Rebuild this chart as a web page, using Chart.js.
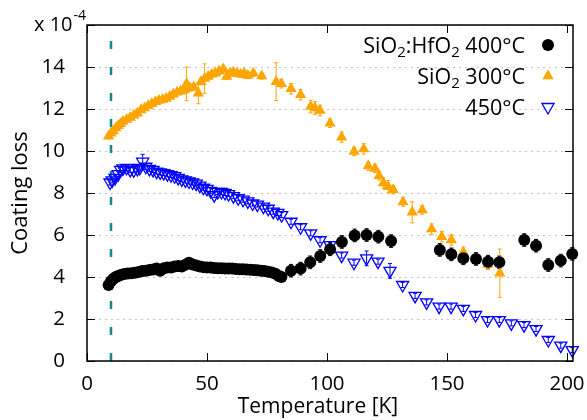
<!DOCTYPE html>
<html>
<head>
<meta charset="utf-8">
<script src="https://cdn.jsdelivr.net/npm/chart.js@4.4.0/dist/chart.umd.min.js"></script>
<style>
    html, body { margin: 0; padding: 0; background: #fff; }
</style>
</head>
<body>
<canvas id="lossChart" width="587" height="420"></canvas>
<script>
// SiO2:HfO2 400°C
const blackT = [9, 10, 11, 12, 13, 14, 15.5, 17, 18.5, 20, 21.5, 23, 24.5, 26, 27.5, 29, 30.5, 32, 33.5, 35,
    36.5, 38, 39.5, 41, 42.5, 44, 45.5, 47, 48.5, 50, 51.5, 53, 54.5, 56, 57.5, 59, 60.5, 62, 63.5, 65,
    66.5, 68, 69.5, 71, 72.5, 74, 75.5, 77, 78.5, 80, 81,
    85, 89, 93, 97.2, 101.3, 106.2, 111.5, 116.5, 121.4, 126.7, 147, 151.8, 156.8, 162.1, 167.1, 171.8,
    182.2, 187.1, 192.2, 197.4, 202.2];
const blackV = [3.62, 3.8, 3.92, 4.0, 4.05, 4.1, 4.14, 4.17, 4.18, 4.2, 4.24, 4.28, 4.3, 4.33, 4.36, 4.4, 4.3, 4.42, 4.45, 4.45,
    4.5, 4.52, 4.5, 4.58, 4.68, 4.6, 4.55, 4.5, 4.47, 4.45, 4.45, 4.43, 4.42, 4.42, 4.4, 4.4, 4.4, 4.38, 4.37, 4.37,
    4.36, 4.35, 4.33, 4.32, 4.3, 4.28, 4.25, 4.22, 4.15, 4.05, 4.0,
    4.3, 4.4, 4.7, 5.0, 5.32, 5.67, 5.98, 6.0, 5.92, 5.71, 5.29, 5.08, 4.89, 4.86, 4.73, 4.7,
    5.76, 5.49, 4.57, 4.78, 5.1];
const blackErr = blackT.map(t => t > 82 ? 0.3 : 0.2);

// SiO2 300°C
const orangeT = [9, 10, 11, 12, 13, 14, 15, 16.5, 18, 19.5, 21, 22.5, 24, 25.5, 27, 28.5, 30, 31.5, 33, 34.5,
    36, 37.5, 39, 40.5, 41.5, 43, 44.5, 46.4, 47.5, 49, 50.5, 52, 53.5, 55, 56.8, 58.2, 59.5, 61, 62.5, 64,
    65.5, 67, 69.3, 72.8, 78.8, 81, 85, 89, 93.2, 95, 97.1, 101.25, 106.1, 111.25, 115.3, 117.2, 120, 121.7,
    123.5, 125.5, 127.6, 131.7, 135.5, 139.7, 143.6, 147.8, 151.8, 156.8, 162, 167, 172];
const orangeV = [10.7, 10.85, 10.95, 11.1, 11.2, 11.3, 11.4, 11.5, 11.6, 11.7, 11.8, 11.95, 12.05, 12.15, 12.25, 12.35, 12.4, 12.45, 12.5, 12.6,
    12.7, 12.8, 12.85, 12.9, 13.2, 13.0, 13.05, 12.75, 13.3, 13.45, 13.55, 13.65, 13.7, 13.8, 13.9, 13.55, 13.7, 13.75, 13.7, 13.65,
    13.7, 13.6, 13.7, 13.57, 13.3, 13.2, 12.96, 12.68, 12.12, 12.05, 11.93, 11.32, 10.66, 9.98, 10.1, 9.28, 9.17, 8.82,
    8.48, 8.3, 8.16, 7.57, 7.08, 7.19, 6.28, 5.92, 5.76, 5.18, 4.85, 4.6, 4.18];
const orangeErr = [0.12, 0.12, 0.12, 0.12, 0.12, 0.12, 0.12, 0.12, 0.12, 0.12, 0.12, 0.12, 0.12, 0.12, 0.12, 0.12, 0.12, 0.12, 0.12, 0.12,
    0.12, 0.12, 0.12, 0.12, 0.8, 0.15, 0.15, 0.5, 0.15, 0.7, 0.15, 0.15, 0.15, 0.15, 0.15, 0.15, 0.15, 0.15, 0.15, 0.15,
    0.15, 0.15, 0.15, 0.15, 0.9, 0.2, 0.25, 0.25, 0.3, 0.3, 0.25, 0.2, 0.25, 0.2, 0.25, 0.2, 0.2, 0.2,
    0.25, 0.3, 0.2, 0.2, 0.5, 0.2, 0.25, 0.25, 0.25, 0.25, 0.25, 0.25, 1.15];

// 450°C
const blueT = [9.6, 10.5, 11.7, 13, 14, 15, 16.5, 18, 19.5, 21, 22, 23.2, 24.5, 26, 27.5, 29, 30.5, 32, 33.5, 35,
    36.5, 38, 39.5, 41, 42.5, 44, 45.5, 47, 48.5, 50, 51.5, 53, 54.5, 56, 57.5, 59, 61, 63, 65, 67,
    69, 71, 73.5, 75.5, 77.6, 79.5, 81.1, 85, 89, 93.2, 97.1, 101.25, 106.1, 111.25, 116.5, 121.25, 126.25, 131.5, 136.7, 141.5,
    146.7, 151.7, 156.8, 161.9, 166.9, 171.8, 176.8, 182.1, 187.1, 192.2, 197.4, 202.2];
const blueV = [8.5, 8.6, 8.72, 8.9, 9.1, 9.17, 9.2, 9.1, 9.08, 9.15, 9.2, 9.49, 9.25, 9.15, 9.1, 9.02, 8.98, 8.95, 8.9, 8.85,
    8.8, 8.72, 8.65, 8.6, 8.55, 8.5, 8.45, 8.35, 8.25, 8.2, 8.1, 7.9, 8.05, 8.05, 8.0, 7.95, 7.85, 7.75, 7.68, 7.6,
    7.5, 7.45, 7.35, 7.25, 7.11, 7.05, 6.95, 6.63, 6.37, 6.08, 5.75, 5.52, 5.02, 4.68, 4.89, 4.73, 4.29, 3.62, 3.1, 2.79,
    2.59, 2.59, 2.48, 2.19, 1.95, 1.95, 1.79, 1.71, 1.52, 1.0, 0.73, 0.52];
const blueErr = blueT.map((t, i) => (i === 11 || i === 54 || i === 56) ? 0.35 : 0.12);

const xTicks = [0, 50, 100, 150, 200];
const yTicks = [0, 2, 4, 6, 8, 10, 12, 14, 16];
const markerT = 10; // dashed reference line

const FONT = '"Open Sans", "Noto Sans", sans-serif';

const toPoints = (xs, ys) => xs.map((x, i) => ({ x: x, y: ys[i] }));

// error bars, drawn under the markers
const errorBars = {
    id: 'errorBars',
    beforeDatasetsDraw(chart) {
        const ctx = chart.ctx;
        const xs = chart.scales.x, ys = chart.scales.y;
        chart.data.datasets.forEach(ds => {
            if (!ds.err) return;
            ctx.save();
            ctx.strokeStyle = ds.errColor;
            ctx.lineWidth = 1;
            ds.data.forEach((p, i) => {
                const px = xs.getPixelForValue(p.x);
                const y1 = ys.getPixelForValue(p.y - ds.err[i]);
                const y2 = ys.getPixelForValue(p.y + ds.err[i]);
                ctx.beginPath();
                ctx.moveTo(px, y1); ctx.lineTo(px, y2);
                ctx.moveTo(px - 2, y1); ctx.lineTo(px + 2, y1);
                ctx.moveTo(px - 2, y2); ctx.lineTo(px + 2, y2);
                ctx.stroke();
            });
            ctx.restore();
        });
    }
};

// frame, inward ticks, x title, exponent label and the key
const frame = {
    id: 'frame',
    afterDraw(chart) {
        const ctx = chart.ctx;
        const a = chart.chartArea;
        const xs = chart.scales.x, ys = chart.scales.y;
        ctx.save();
        ctx.strokeStyle = '#000';
        ctx.lineWidth = 1;
        xTicks.forEach(v => {
            const px = Math.round(xs.getPixelForValue(v)) + 0.5;
            ctx.beginPath();
            ctx.moveTo(px, a.bottom); ctx.lineTo(px, a.bottom - 8);
            ctx.moveTo(px, a.top); ctx.lineTo(px, a.top + 8);
            ctx.stroke();
        });
        yTicks.forEach(v => {
            const py = Math.round(ys.getPixelForValue(v)) + 0.5;
            ctx.beginPath();
            ctx.moveTo(a.left, py); ctx.lineTo(a.left + 8, py);
            ctx.moveTo(a.right, py); ctx.lineTo(a.right - 8, py);
            ctx.stroke();
        });
        ctx.lineWidth = 1.5;
        ctx.strokeRect(a.left, a.top, a.right - a.left, a.bottom - a.top);

        ctx.fillStyle = '#000';
        ctx.textBaseline = 'alphabetic';

        // x title
        ctx.textAlign = 'center';
        ctx.font = '21px ' + FONT;
        ctx.fillText('Temperature [K]', 318, 413);

        // x 10^-4
        ctx.textAlign = 'left';
        ctx.font = '20px ' + FONT;
        ctx.fillText('x 10', 34, 31);
        const w = ctx.measureText('x 10').width;
        ctx.font = '14px ' + FONT;
        ctx.fillText('-4', 34 + w + 1, 20);

        // key
        const keyRows = [
            { parts: [['SiO', 0], ['2', 1], [':HfO', 0], ['2', 1], [' 400°C', 0]], ds: 0 },
            { parts: [['SiO', 0], ['2', 1], [' 300°C', 0]], ds: 1 },
            { parts: [['450°C', 0]], ds: 2 }
        ];
        const right = 525, symX = 548;
        const big = '21.5px ' + FONT, small = '15px ' + FONT;
        keyRows.forEach((row, r) => {
            const cy = 45 + r * 31;
            let total = 0;
            row.parts.forEach(([t, sub]) => {
                ctx.font = sub ? small : big;
                total += ctx.measureText(t).width;
            });
            let x = right - total;
            row.parts.forEach(([t, sub]) => {
                ctx.font = sub ? small : big;
                ctx.fillText(t, x, sub ? cy + 12 : cy + 8);
                x += ctx.measureText(t).width;
            });
            const ds = chart.data.datasets[row.ds];
            ctx.fillStyle = ds.backgroundColor;
            ctx.strokeStyle = ds.borderColor;
            ctx.lineWidth = ds.borderWidth;
            Chart.helpers.drawPoint(ctx, {
                pointStyle: ds.pointStyle, radius: ds.keyRadius,
                rotation: ds.rotation || 0, borderWidth: ds.borderWidth
            }, symX, cy);
            ctx.fillStyle = '#000';
        });
        ctx.restore();
    }
};

new Chart(document.getElementById('lossChart'), {
    type: 'scatter',
    data: {
        datasets: [
            {
                label: 'SiO2:HfO2 400°C',
                data: toPoints(blackT, blackV),
                err: blackErr, errColor: '#000',
                pointStyle: 'circle', pointRadius: 6, keyRadius: 6,
                backgroundColor: '#000', borderColor: '#000', borderWidth: 0,
                clip: false, order: 1
            },
            {
                label: 'SiO2 300°C',
                data: toPoints(orangeT, orangeV),
                err: orangeErr, errColor: '#ffa500',
                pointStyle: 'triangle', pointRadius: 6.5, keyRadius: 6.5,
                backgroundColor: '#ffa500', borderColor: '#ffa500', borderWidth: 0,
                clip: false, order: 2
            },
            {
                label: '450°C',
                data: toPoints(blueT, blueV),
                err: blueErr, errColor: '#0000ff',
                pointStyle: 'triangle', rotation: 180, pointRotation: 180, pointRadius: 7, keyRadius: 7,
                backgroundColor: 'rgba(0,0,0,0)', borderColor: '#0000ff', borderWidth: 1.3,
                clip: false, order: 3
            },
            {
                type: 'line',
                label: 'T = 10 K',
                data: [{ x: markerT, y: 0 }, { x: markerT, y: 16 }],
                borderColor: '#138a8a', borderWidth: 2.5, borderDash: [8, 18],
                pointRadius: 0, order: 4
            }
        ]
    },
    options: {
        responsive: false,
        animation: false,
        devicePixelRatio: 1,
        layout: { padding: { top: 25, right: 14, left: 0, bottom: 0 } },
        plugins: {
            legend: { display: false },
            tooltip: { enabled: false }
        },
        scales: {
            x: {
                type: 'linear',
                min: 0,
                max: 202.5,
                afterBuildTicks: s => { s.ticks = xTicks.map(v => ({ value: v })); },
                afterFit: s => { s.height = 59; s.paddingLeft = 0; s.paddingRight = 0; },
                ticks: { color: '#000', font: { family: FONT, size: 20.5 }, padding: 3, maxRotation: 0 },
                grid: { display: false },
                border: { display: false }
            },
            y: {
                min: 0,
                max: 16,
                afterBuildTicks: s => { s.ticks = yTicks.map(v => ({ value: v })); },
                afterFit: s => { s.width = 87; s.paddingTop = 0; s.paddingBottom = 0; },
                ticks: {
                    color: '#000', font: { family: FONT, size: 20.5 }, padding: 22,
                    callback: v => v === 16 ? '' : v
                },
                grid: { color: '#c4c4c4', lineWidth: 1, drawTicks: false },
                border: { display: false, dash: [2, 4] },
                title: {
                    display: true, text: 'Coating loss', color: '#000',
                    font: { family: FONT, size: 22 }, padding: { top: 8, bottom: 0 }
                }
            }
        }
    },
    plugins: [errorBars, frame]
});
</script>
</body>
</html>
